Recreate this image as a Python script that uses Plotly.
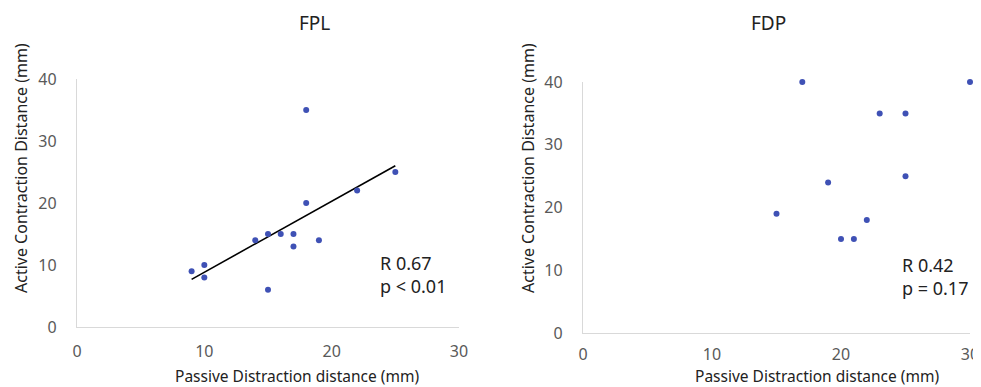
import numpy as np
import plotly.graph_objects as go

# FPL data
fpl_x = [9, 10, 10, 14, 15, 15, 16, 17, 17, 18, 18, 19, 22, 25]
fpl_y = [9, 10, 8, 14, 15, 6, 15, 15, 13, 35, 20, 14, 22, 25]
# FDP data
fdp_x = [17, 30, 23, 25, 25, 19, 15, 22, 20, 21]
fdp_y = [40, 40, 35, 35, 25, 24, 19, 18, 15, 15]

x_ticks = [0, 10, 20, 30]
y_ticks = [0, 10, 20, 30, 40]
titles = ["FPL", "FDP"]
stats = ["R 0.67<br>p < 0.01", "R 0.42<br>p = 0.17"]
x_title = "Passive Distraction distance (mm)"
y_title = "Active Contraction Distance (mm)"

OFF = 8  # default page body margin
W, H = 981 - OFF, 387 - OFF
FONT = "Noto Sans"
BLUE = "#3F51B5"

# trendline for FPL (linear least squares, as in the source chart)
slope, intercept = np.polyfit(fpl_x, fpl_y, 1)
tx = [min(fpl_x), max(fpl_x)]
ty = [slope * v + intercept for v in tx]

fig = go.Figure()
fig.add_trace(go.Scatter(x=tx, y=ty, mode="lines", line=dict(color="black", width=1.6),
                         xaxis="x", yaxis="y", showlegend=False, hoverinfo="skip"))
fig.add_trace(go.Scatter(x=fpl_x, y=fpl_y, mode="markers", cliponaxis=False,
                         marker=dict(color=BLUE, size=6), xaxis="x", yaxis="y", showlegend=False))
fig.add_trace(go.Scatter(x=fdp_x, y=fdp_y, mode="markers", cliponaxis=False,
                         marker=dict(color=BLUE, size=6), xaxis="x2", yaxis="y2", showlegend=False))

# pixel geometry of the two plot areas (page coordinates)
L = dict(x0=77, x1=459, y0=79, y1=327)
R = dict(x0=583, x1=970, y0=82, y1=333)

def px(v):
    return (v - OFF) / W

def py(v):
    return 1 - (v - OFF) / H

def dom_x(p):
    return [px(p["x0"]), px(p["x1"])]

def dom_y(p):
    return [py(p["y1"]), py(p["y0"])]

ax_common = dict(range=[0, 30], tickvals=x_ticks, showgrid=False, zeroline=False,
                 showline=True, linecolor="#D9D9D9", linewidth=1.3, ticks="",
                 tickfont=dict(family=FONT, size=16, color="#595959"),
                 automargin=False)
ay_common = dict(range=[0, 40], tickvals=y_ticks, showgrid=False, zeroline=False,
                 showline=True, linecolor="#D9D9D9", linewidth=1.3, ticks="",
                 tickfont=dict(family=FONT, size=16, color="#595959"),
                 automargin=False, ticklabelstandoff=16)

fig.update_layout(
    width=W, height=H,
    margin=dict(l=0, r=0, t=0, b=0),
    paper_bgcolor="white", plot_bgcolor="white",
    xaxis=dict(domain=dom_x(L), anchor="y", ticklabelstandoff=10, **ax_common),
    yaxis=dict(domain=dom_y(L), anchor="x", **ay_common),
    xaxis2=dict(domain=dom_x(R), anchor="y2", ticklabelstandoff=7, **ax_common),
    yaxis2=dict(domain=dom_y(R), anchor="x2", **ay_common),
    font=dict(family=FONT),
)

annotations = []
# titles
for cx, t in zip([314, 768], titles):
    annotations.append(dict(x=px(cx), y=py(23), xref="paper", yref="paper", text=t,
                            showarrow=False, xanchor="center", yanchor="middle",
                            font=dict(family=FONT, size=19, color="#222222")))
# x titles
for cx in [297, 817]:
    annotations.append(dict(x=px(cx), y=py(376), xref="paper", yref="paper", text=x_title,
                            showarrow=False, xanchor="center", yanchor="middle",
                            font=dict(family=FONT, size=15.5, color="#222222")))
# y titles
for cx in [21, 528]:
    annotations.append(dict(x=px(cx), y=py(168), xref="paper", yref="paper", text=y_title,
                            showarrow=False, xanchor="center", yanchor="middle", textangle=-90,
                            font=dict(family=FONT, size=16, color="#222222")))
# stats
for (lx, ty_), s in zip([(378, 274), (900, 276)], stats):
    annotations.append(dict(x=px(lx), y=py(ty_), xref="paper", yref="paper", text=s,
                            showarrow=False, xanchor="left", yanchor="middle", align="left",
                            font=dict(family=FONT, size=18, color="#222222")))
fig.update_layout(annotations=annotations)

fig.write_html("out.html")
